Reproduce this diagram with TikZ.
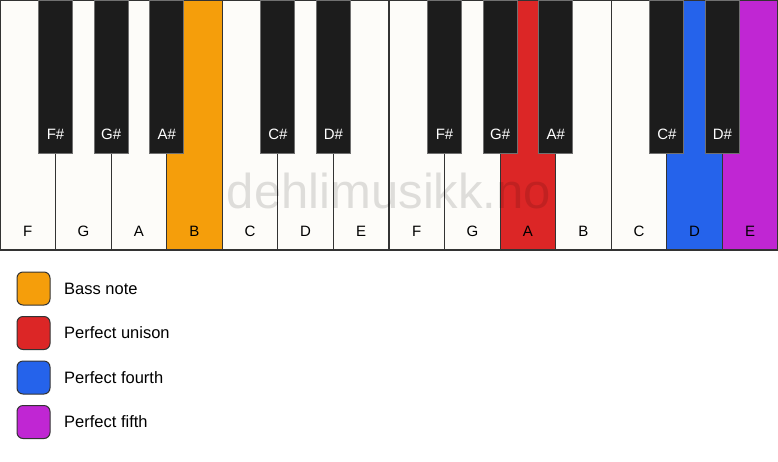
\documentclass[tikz,border=0pt]{standalone}
\usepackage{fontspec}
\setmainfont{Liberation Sans}
\usepackage{xcolor}
\usepackage{tikz}
\usetikzlibrary{positioning}

\definecolor{keywhite}{HTML}{FDFCF9}
\definecolor{keyblack}{HTML}{1C1C1C}
\definecolor{keyline}{HTML}{333333}
\definecolor{bassnote}{HTML}{F59E0B}
\definecolor{unison}{HTML}{DC2626}
\definecolor{fourth}{HTML}{2563EB}
\definecolor{fifth}{HTML}{C026D3}

\begin{document}
\begin{tikzpicture}[
        x=1pt, y=1pt,
        whitekey/.style={rectangle, draw=keyline, fill=keywhite, line width=1.2pt,
                     minimum width=55.57pt, minimum height=250pt, inner sep=0pt, outer sep=0pt},
        blackkey/.style={rectangle, draw=keyline!70, fill=keyblack, line width=0.8pt,
                     minimum width=34pt, minimum height=153pt, inner sep=0pt, outer sep=0pt, anchor=north},
        whitename/.style={anchor=base, yshift=14pt, inner sep=0pt, text=black,
                     font=\fontsize{15}{18}\selectfont},
        blackname/.style={anchor=base, yshift=14pt, inner sep=0pt, text=white,
                     font=\fontsize{15}{18}\selectfont},
        swatch/.style={rectangle, draw=keyline, line width=1pt, rounded corners=6pt,
                     minimum size=33pt, inner sep=0pt, outer sep=0pt},
        legendtext/.style={right=14pt of #1, anchor=west, inner sep=0pt,
                     font=\fontsize{16.5}{20}\selectfont}
      ]
        \useasboundingbox (0,0) rectangle (778,-461);

        % White keys
        \node [whitekey, anchor=north west, label={[whitename]south:F}] (f1) at (0,0) {};
        \node [whitekey, right=0pt of f1, label={[whitename]south:G}] (g1) {};
        \node [whitekey, right=0pt of g1, label={[whitename]south:A}] (a1) {};
        \node [whitekey, right=0pt of a1, fill=bassnote, label={[whitename]south:B}] (b1) {};
        \node [whitekey, right=0pt of b1, label={[whitename]south:C}] (c1) {};
        \node [whitekey, right=0pt of c1, label={[whitename]south:D}] (d1) {};
        \node [whitekey, right=0pt of d1, label={[whitename]south:E}] (e1) {};
        \node [whitekey, right=0pt of e1, label={[whitename]south:F}] (f2) {};
        \node [whitekey, right=0pt of f2, label={[whitename]south:G}] (g2) {};
        \node [whitekey, right=0pt of g2, fill=unison, label={[whitename]south:A}] (a2) {};
        \node [whitekey, right=0pt of a2, label={[whitename]south:B}] (b2) {};
        \node [whitekey, right=0pt of b2, label={[whitename]south:C}] (c2) {};
        \node [whitekey, right=0pt of c2, fill=fourth, label={[whitename]south:D}] (d2) {};
        \node [whitekey, right=0pt of d2, fill=fifth, label={[whitename]south:E}] (e2) {};

        % Black keys
        \node [blackkey, label={[blackname]south:F\#}] (fs1) at (f1.north east) {};
        \node [blackkey, label={[blackname]south:G\#}] (gs1) at (g1.north east) {};
        \node [blackkey, label={[blackname]south:A\#}] (as1) at (a1.north east) {};
        \node [blackkey, label={[blackname]south:C\#}] (cs1) at (c1.north east) {};
        \node [blackkey, label={[blackname]south:D\#}] (ds1) at (d1.north east) {};
        \node [blackkey, label={[blackname]south:F\#}] (fs2) at (f2.north east) {};
        \node [blackkey, label={[blackname]south:G\#}] (gs2) at (g2.north east) {};
        \node [blackkey, label={[blackname]south:A\#}] (as2) at (a2.north east) {};
        \node [blackkey, label={[blackname]south:C\#}] (cs2) at (c2.north east) {};
        \node [blackkey, label={[blackname]south:D\#}] (ds2) at (d2.north east) {};

        % Watermark
        \node [anchor=base, text=black, text opacity=0.12, inner sep=0pt,
               font=\fontsize{49}{58}\selectfont] (mark) at (389,-208) {dehlimusikk.no};

        % Legend
        \node [swatch, fill=bassnote, anchor=north west] (legbass) at (17,-272) {};
        \node [swatch, fill=unison, below=11.5pt of legbass] (legunison) {};
        \node [swatch, fill=fourth, below=11.5pt of legunison] (legfourth) {};
        \node [swatch, fill=fifth, below=11.5pt of legfourth] (legfifth) {};

        \node [legendtext=legbass] {Bass note};
        \node [legendtext=legunison] {Perfect unison};
        \node [legendtext=legfourth] {Perfect fourth};
        \node [legendtext=legfifth] {Perfect fifth};
      \end{tikzpicture}
\end{document}
